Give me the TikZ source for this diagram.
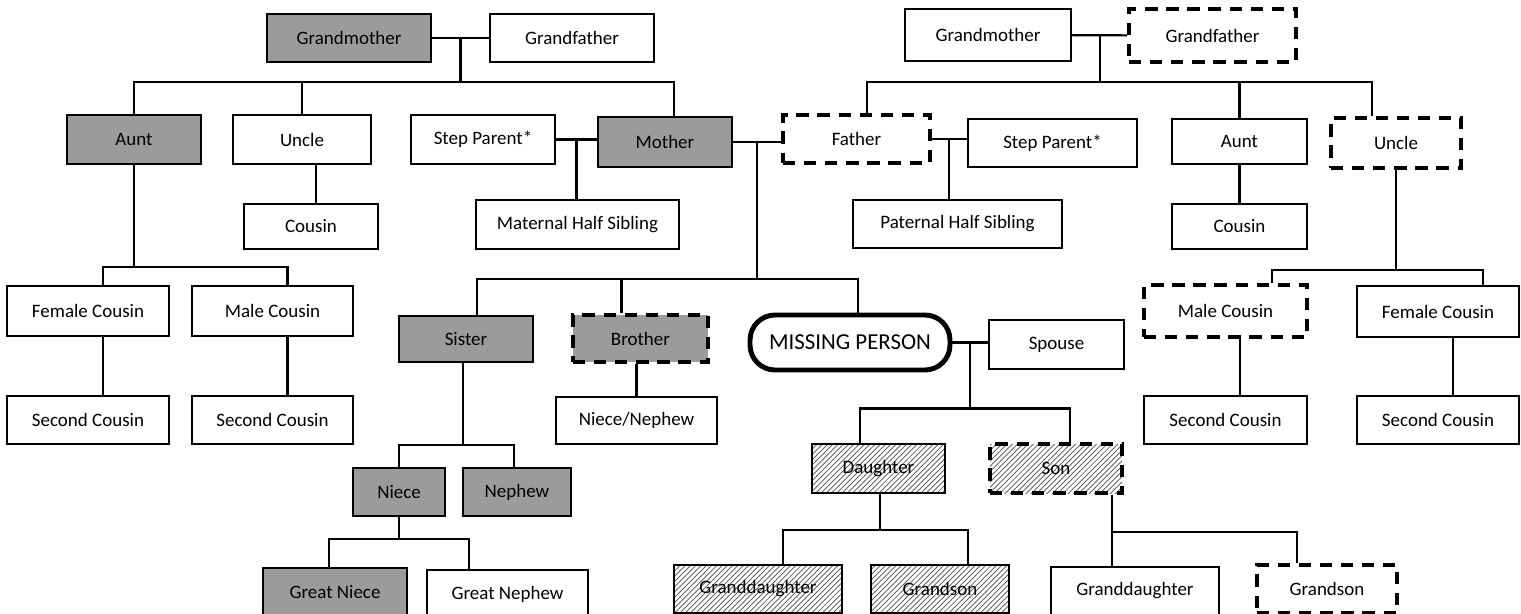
\documentclass[tikz,border=0pt]{standalone}
\usepackage{fontspec}
\setmainfont{Carlito}
\usetikzlibrary{calc,patterns}
\definecolor{boxgray}{RGB}{155,155,155}
\tikzset{
  person/.style={draw, rectangle, line width=1.4pt, minimum width=2.7cm, minimum height=0.96cm, align=center, font=\fontsize{10.8}{13}\selectfont},
  shaded/.style={fill=boxgray},
  unknown/.style={line width=2.3pt, dash pattern=on 7pt off 5pt},
  hatched/.style={pattern=north east lines, pattern color=black!70},
  link/.style={line width=1.2pt}
}
\begin{document}
\begin{tikzpicture}[x=0.02cm, y=-0.02cm]
\useasboundingbox (0,0) rectangle (1521,613);
% maternal side
\node[person, shaded, minimum width=3.28cm] (gmL) at (349,38) {Grandmother};
\node[person, minimum width=3.28cm] (gfL) at (572,38) {Grandfather};
\node[person, shaded, minimum width=2.68cm, minimum height=0.98cm] (auntL) at (134,139.5) {Aunt};
\node[person, minimum width=2.76cm, minimum height=0.98cm] (uncleL) at (302,139.5) {Uncle};
\node[person, minimum width=2.88cm, minimum height=0.98cm] (stepL) at (483,139.5) {Step Parent*};
\node[person, shaded, minimum width=2.68cm, minimum height=1cm] (mother) at (665,142) {Mother};
\node[person, minimum width=2.68cm, minimum height=0.9cm] (cousinL) at (311,226.5) {Cousin};
\node[person, minimum width=4.06cm, minimum height=0.98cm] (matHalf) at (577.5,224.5) {Maternal Half Sibling};
\node[person, minimum width=3.24cm, minimum height=1cm] (fcousinL) at (88,311) {Female Cousin};
\node[person, minimum width=3.22cm, minimum height=1cm] (mcousinL) at (272.5,311) {Male Cousin};
\node[person, minimum width=3.24cm] (scousinL1) at (88,420) {Second Cousin};
\node[person, minimum width=3.22cm] (scousinL2) at (272.5,420) {Second Cousin};
% siblings
\node[person, shaded, minimum width=2.68cm, minimum height=0.92cm] (sister) at (466,339) {Sister};
\node[person, shaded, unknown, minimum width=2.7cm, minimum height=0.94cm] (brother) at (640.5,338.5) {Brother};
\node[draw, line width=2.8pt, rounded corners=0.5cm, minimum width=4cm, minimum height=1.1cm, font=\fontsize{13}{15}\selectfont] (missing) at (850,342.5) {MISSING PERSON};
\node[person, minimum width=2.7cm, minimum height=0.98cm] (spouse) at (1056.5,344.5) {Spouse};
\node[person, minimum width=3.22cm, minimum height=0.94cm] (nieceNephew) at (636.5,420.5) {Niece/Nephew};
\node[person, shaded, minimum width=1.84cm] (niece) at (399,492) {Niece};
\node[person, shaded, minimum width=2.16cm] (nephew) at (517,492) {Nephew};
\node[person, shaded, minimum width=2.88cm] (gniece) at (335,592) {Great Niece};
\node[person, minimum width=3.22cm] (gnephew) at (507.5,594) {Great Nephew};
% children
\node[person, hatched, minimum width=2.66cm, minimum height=0.98cm] (daughter) at (878.5,468.5) {Daughter};
\node[person, hatched, unknown, minimum width=2.64cm, minimum height=0.98cm] (son) at (1056,468.5) {Son};
\node[person, hatched, minimum width=3.36cm] (gdaughterD) at (758,589) {Granddaughter};
\node[person, hatched, minimum width=2.76cm] (gsonD) at (940,589) {Grandson};
\node[person, minimum width=3.36cm] (gdaughterS) at (1135,591) {Granddaughter};
\node[person, unknown, minimum width=2.8cm] (gsonS) at (1327,589) {Grandson};
% paternal side
\node[person, minimum width=3.32cm, minimum height=1.04cm] (gmR) at (988,35) {Grandmother};
\node[person, unknown, minimum width=3.34cm, minimum height=1.06cm] (gfR) at (1212.5,35.5) {Grandfather};
\node[person, unknown, minimum width=2.94cm] (father) at (856.5,139) {Father};
\node[person, minimum width=3.38cm] (stepR) at (1052.5,143) {Step Parent*};
\node[person, minimum width=2.7cm, minimum height=0.9cm] (auntR) at (1239.5,141.5) {Aunt};
\node[person, unknown, minimum width=2.6cm, minimum height=1cm] (uncleR) at (1396,143) {Uncle};
\node[person, minimum width=4.18cm] (patHalf) at (957.5,224) {Paternal Half Sibling};
\node[person, minimum width=2.7cm, minimum height=0.9cm] (cousinR) at (1239.5,226.5) {Cousin};
\node[person, unknown, minimum width=3.26cm, minimum height=1.04cm] (mcousinR) at (1225.5,311) {Male Cousin};
\node[person, minimum width=3.24cm, minimum height=1.02cm] (fcousinR) at (1438,311.5) {Female Cousin};
\node[person, minimum width=3.26cm] (scousinR1) at (1225.5,420) {Second Cousin};
\node[person, minimum width=3.24cm] (scousinR2) at (1438,420) {Second Cousin};
% maternal links
\draw[link] (gmL) -- coordinate (jL) (gfL);
\draw[link] (jL) -- ++(0,44) coordinate (barL);
\draw[link] (barL) -| (auntL.north);
\draw[link] (barL) -| (uncleL.north);
\draw[link] (barL) -| ($(mother.north)+(9,0)$);
\draw[link] ($(uncleL.south)+(14,0)$) -- ($(cousinL.north)+(5,0)$);
\draw[link] (stepL.east) -- coordinate (jStep) (stepL.east -| mother.west);
\draw[link] (jStep) -- (jStep |- matHalf.north);
\draw[link] (auntL.south) -- ++(0,102) coordinate (barA);
\draw[link] (barA) -| ($(fcousinL.north)+(15,0)$);
\draw[link] (barA) -| ($(mcousinL.north)+(15,0)$);
\draw[link] ($(fcousinL.south)+(15,0)$) -- ($(scousinL1.north)+(15,0)$);
\draw[link] ($(mcousinL.south)+(15,0)$) -- ($(scousinL2.north)+(15,0)$);
% parents and siblings
\draw[link] (mother.east) -- coordinate (jMF) (mother.east -| father.west);
\draw[link] (jMF) -- ++(0,137) coordinate (barS);
\draw[link] (barS) -| ($(sister.north)+(11,0)$);
\draw[link] (barS) -| ($(brother.north)+(-19,0)$);
\draw[link] (barS) -| ($(missing.north)+(8,0)$);
\draw[link] ($(sister.south)+(-3,0)$) -- ++(0,82) coordinate (barSis);
\draw[link] (barSis) -| (niece.north);
\draw[link] (barSis) -| ($(nephew.north)+(-3,0)$);
\draw[link] (niece.south) -- ++(0,22) coordinate (barN);
\draw[link] (barN) -| ($(gniece.north)+(-6,0)$);
\draw[link] (barN) -| ($(gnephew.north)+(-38.5,0)$);
\draw[link] (brother.south -| nieceNephew.north) -- (nieceNephew.north);
% own family
\draw[link] (missing.east) -- coordinate (jMS) (missing.east -| spouse.west);
\draw[link] (jMS) -- ++(0,66) coordinate (barK);
\draw[link] (barK) -| ($(daughter.north)+(-18.5,0)$);
\draw[link] (barK) -| ($(son.north)+(14,0)$);
\draw[link] ($(daughter.south)+(1.5,0)$) -- ++(0,36) coordinate (barD);
\draw[link] (barD) -| ($(gdaughterD.north)+(25,0)$);
\draw[link] (barD) -| ($(gsonD.north)+(28,0)$);
\draw[link] ($(son.south)+(56,0)$) -- ++(0,37) coordinate (barSon);
\draw[link] (barSon) -- ($(gdaughterS.north)+(-23,0)$);
\draw[link] (barSon) -| ($(gsonS.north)+(-30,0)$);
% paternal links
\draw[link] (gmR) -- coordinate (jR) (gfR);
\draw[link] (jR) -- ++(0,47) coordinate (barR);
\draw[link] (barR) -| ($(father.north)+(10.5,0)$);
\draw[link] (barR) -| (auntR.north);
\draw[link] (barR) -| ($(uncleR.north)+(-24,0)$);
\draw[link] (father.east) -- coordinate (jF) (father.east -| stepR.west);
\draw[link] (jF) -- (jF |- patHalf.north);
\draw[link] (auntR) -- (cousinR);
\draw[link] (uncleR.south) -- ++(0,100) coordinate (barU);
\draw[link] (barU) -| ($(mcousinR.north)+(46.5,0)$);
\draw[link] (barU) -| ($(fcousinR.north)+(45,0)$);
\draw[link] ($(mcousinR.south)+(14.5,0)$) -- ($(scousinR1.north)+(14.5,0)$);
\draw[link] ($(fcousinR.south)+(15,0)$) -- ($(scousinR2.north)+(15,0)$);
\end{tikzpicture}
\end{document}
